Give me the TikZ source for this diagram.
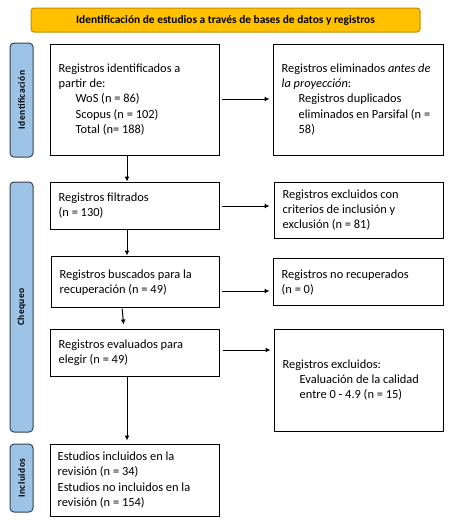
\documentclass[tikz,border=0pt]{standalone}
\usepackage{fontspec}
\setmainfont{Carlito}
\usetikzlibrary{arrows.meta,calc}
\definecolor{bannerfill}{HTML}{FFC000}
\definecolor{bannerdraw}{HTML}{BF9000}
\definecolor{sidefill}{HTML}{9DC3E6}
\definecolor{sidedraw}{HTML}{35424F}
\newcommand{\ind}{\hspace*{17pt}}
\begin{document}
\begin{tikzpicture}[x=1pt,y=-1pt,
  box/.style={draw=black,line width=1pt,inner sep=0pt},
  boxtext/.style={anchor=west,align=left,inner sep=0pt,
    font=\fontsize{12.4}{15.3}\selectfont},
  sidebar/.style={draw=sidedraw,fill=sidefill,line width=1pt,rounded corners=4pt,inner sep=0pt},
  sidetext/.style={rotate=90,font=\fontsize{9.5}{11}\selectfont\bfseries\addfontfeature{LetterSpace=5}},
  arr/.style={line width=1pt,-{Latex[length=5pt,width=5pt]}}]
\useasboundingbox (0,0) rectangle (453,520);
\fill[white] (0,0) rectangle (453,520);
% banner
\node[draw=bannerdraw,fill=bannerfill,line width=1pt,rounded corners=3pt,
  minimum width=389pt,minimum height=24pt,inner sep=0pt,
  font=\fontsize{11.4}{13}\selectfont\bfseries] (banner) at (225.5,20)
  {Identificación de estudios a través de bases de datos y registros};
% side bars
\node[sidebar,minimum width=23pt,minimum height=114pt] (s1) at (21.5,100) {};
\node[sidetext] at (s1) {Identificación};
\node[sidebar,minimum width=23pt,minimum height=250pt] (s2) at (21.5,307) {};
\node[sidetext] at (s2) {Chequeo};
\node[sidebar,minimum width=23pt,minimum height=68pt] (s3) at (21.5,478) {};
\node[sidetext] at (s3) {Incluidos};
% boxes
\node[box,minimum width=169pt,minimum height=111pt] (b1) at (134.5,99.5) {};
\node[boxtext] at ([xshift=9pt]b1.west)
  {Registros identificados a\\ partir de:\\ \ind WoS (n = 86)\\ \ind Scopus (n = 102)\\ \ind Total (n= 188)};
\node[box,minimum width=170pt,minimum height=111pt] (b2) at (358,99.5) {};
\node[boxtext] at ([xshift=9pt]b2.west)
  {Registros eliminados \textit{antes de}\\ \textit{la proyección}:\\ \ind Registros duplicados\\ \ind eliminados en Parsifal (n =\\ \ind 58)};
\node[box,minimum width=169pt,minimum height=47pt] (b3) at (134.5,205.5) {};
\node[boxtext] at ([xshift=9pt]b3.west)
  {Registros filtrados\\ (n = 130)};
\node[box,minimum width=169pt,minimum height=56pt] (b4) at (358.5,210) {};
\node[boxtext] at ([xshift=9pt]b4.west)
  {Registros excluidos con\\ criterios de inclusión y\\ exclusión (n = 81)};
\node[box,minimum width=168pt,minimum height=51pt] (b5) at (135,281.5) {};
\node[boxtext] at ([xshift=9pt,yshift=-1pt]b5.west)
  {Registros buscados para la\\ recuperación (n = 49)};
\node[box,minimum width=170pt,minimum height=47pt] (b6) at (358,281.5) {};
\node[boxtext] at ([xshift=9pt,yshift=-1pt]b6.west)
  {Registros no recuperados\\ (n = 0)};
\node[box,minimum width=169pt,minimum height=47pt] (b7) at (134.5,352.5) {};
\node[boxtext] at ([xshift=9pt]b7.west)
  {Registros evaluados para\\ elegir (n = 49)};
\node[box,minimum width=169pt,minimum height=102pt] (b8) at (358.5,380) {};
\node[boxtext] at ([xshift=9pt]b8.west)
  {Registros excluidos:\\ \ind Evaluación de la calidad\\ \ind entre 0 - 4.9 (n = 15)};
\node[box,minimum width=169pt,minimum height=72pt] (b9) at (134.5,480) {};
\node[boxtext] at ([xshift=8pt]b9.west)
  {Estudios incluidos en la\\ revisión (n = 34)\\ Estudios no incluidos en la\\ revisión (n = 154)};
% horizontal arrows
\draw[arr,shorten <=2pt,shorten >=3pt] ([yshift=0.5pt]b1.east) -- ([yshift=0.5pt]b1.east -| b2.west);
\draw[arr,shorten <=2pt,shorten >=4pt] ([yshift=-0.5pt]b3.east) -- ([yshift=-0.5pt]b3.east -| b4.west);
\draw[arr,shorten <=2pt,shorten >=3pt] ([yshift=-9.5pt]b5.east) -- ([yshift=-9.5pt]b5.east -| b6.west);
\draw[arr,shorten <=3pt,shorten >=3pt] ([yshift=2.5pt]b7.east) -- ([yshift=2.5pt]b7.east -| b8.west);
% vertical arrows
\draw[arr] ([xshift=-7.5pt]b1.south) -- ([xshift=-7.5pt]b1.south |- b3.north);
\draw[arr] ([xshift=-7.5pt]b3.south) -- ([xshift=-7.5pt]b3.south |- b5.north);
\coordinate (c5) at ([xshift=-13pt]b5.south);
\coordinate (c7) at ([xshift=-10.5pt]b7.north);
\draw[arr,shorten <=1pt,shorten >=4pt] (c5) -- (c7);
\draw[arr,shorten >=3pt] ([xshift=-7.5pt]b7.south) -- ([xshift=-7.5pt]b7.south |- b9.north);
\end{tikzpicture}
\end{document}
